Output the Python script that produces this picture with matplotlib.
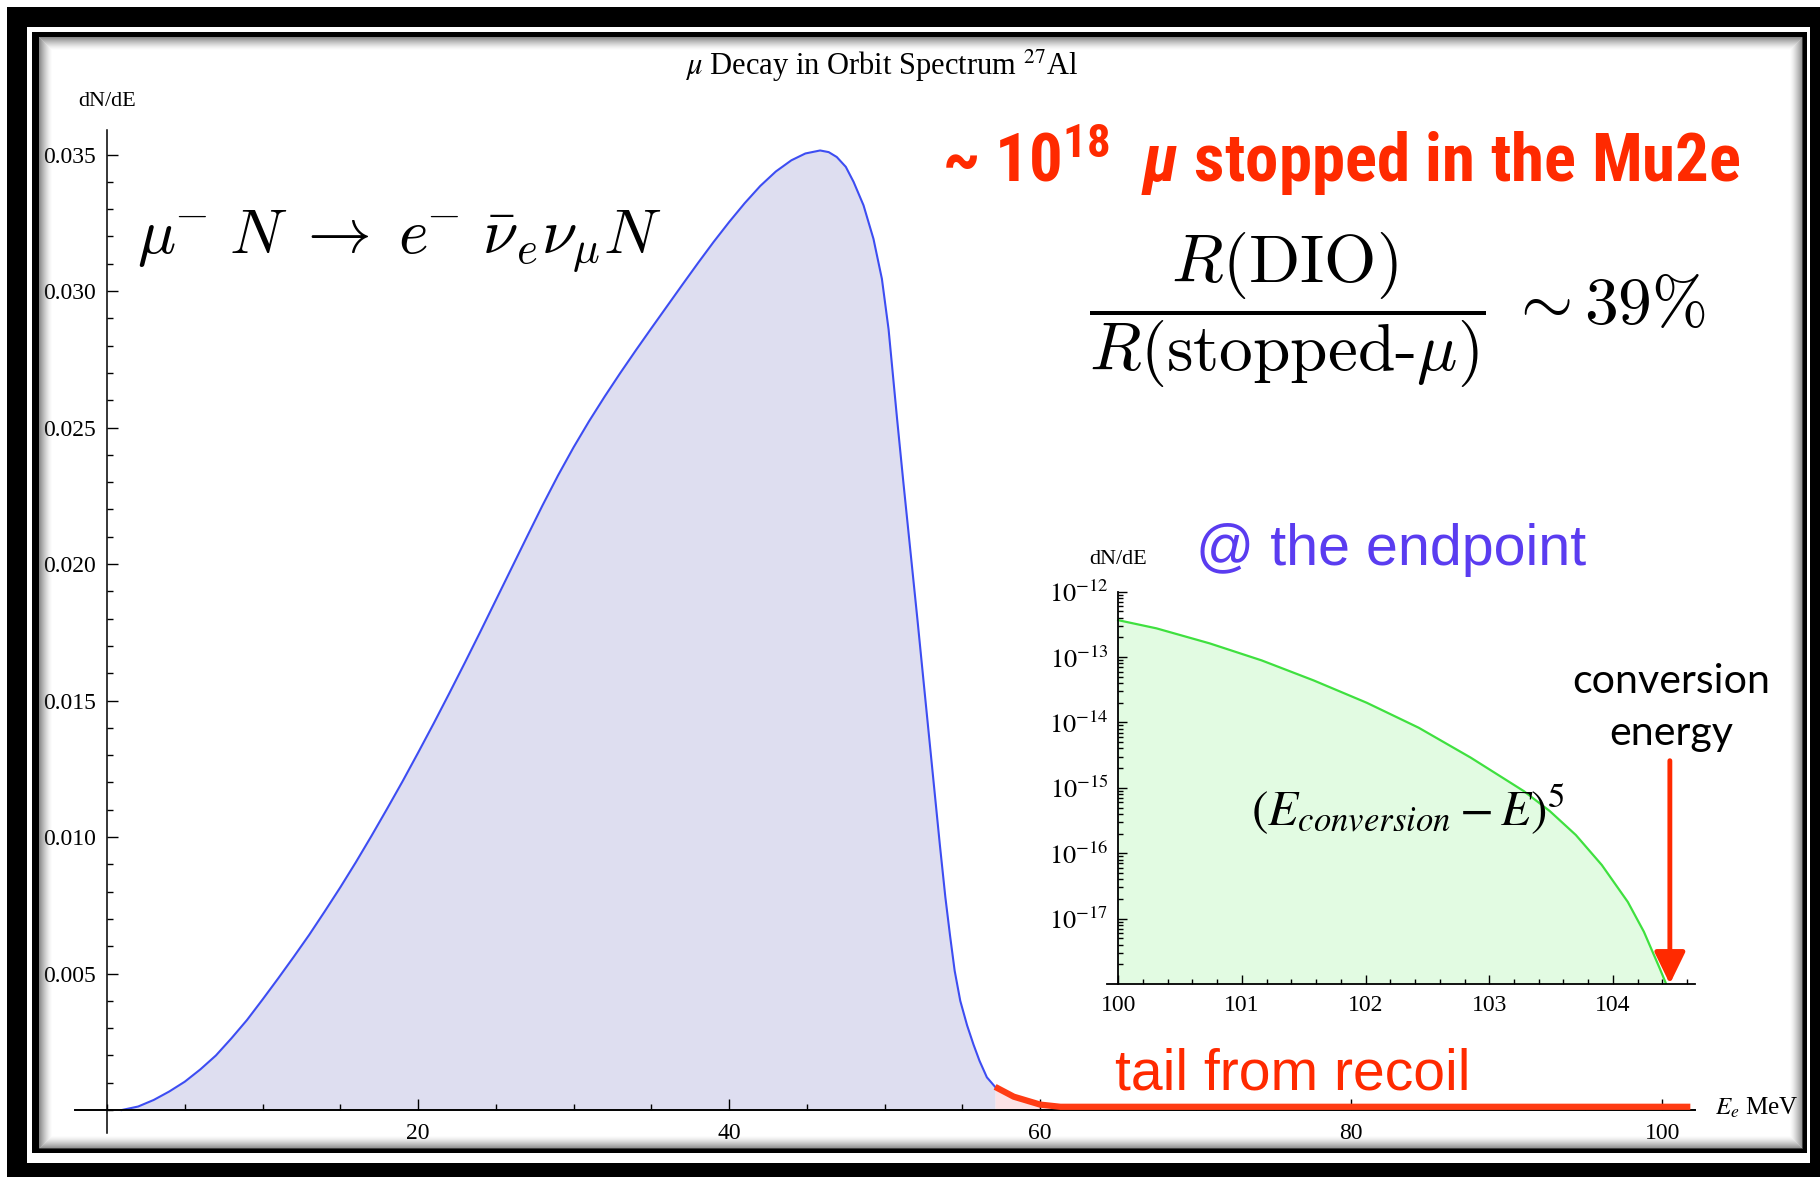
import matplotlib
matplotlib.use("Agg")
import matplotlib.pyplot as plt
from matplotlib import font_manager as fm
from matplotlib.patches import Rectangle
from matplotlib.ticker import MultipleLocator, NullFormatter

# DIO spectrum of the main panel (E in MeV, dN/dE)
dio_energy = [0.94, 2.0, 3.0, 4.0, 5.0, 6.0, 7.0, 8.0, 9.0, 10.0, 11.0, 12.0, 13.0,
              14.0, 15.0, 16.0, 17.0, 18.0, 19.0, 20.0, 21.0, 22.0, 23.0, 24.0,
              25.0, 26.0, 27.0, 28.0, 29.0, 30.0, 31.0, 32.0, 33.0, 34.0, 35.0,
              36.0, 37.0, 38.0, 39.0, 40.0, 41.0, 42.0, 43.0, 44.0, 44.9, 45.85,
              46.4, 46.92, 47.5, 48.0, 48.64, 49.28, 49.82, 50.25, 50.5, 50.8, 51.2,
              51.65, 52.1, 52.5, 52.85, 53.2, 53.55, 53.9, 54.2, 54.5, 54.86, 55.3,
              55.71, 56.1, 56.57, 57.1]
dio_rate = [0.0, 0.00013, 0.00037, 0.00068, 0.00104, 0.00149, 0.002, 0.00263,
            0.0033, 0.00405, 0.00482, 0.00561, 0.00642, 0.00728, 0.00816, 0.00908,
            0.01004, 0.01103, 0.01204, 0.01309, 0.01416, 0.01526, 0.01638, 0.01752,
            0.01868, 0.01984, 0.021, 0.02215, 0.02325, 0.02428, 0.02524, 0.02614,
            0.027, 0.02783, 0.02864, 0.02944, 0.03024, 0.03103, 0.0318, 0.03253,
            0.03322, 0.03385, 0.03438, 0.03479, 0.03504, 0.03515, 0.03509, 0.03491,
            0.03455, 0.034, 0.03314, 0.03191, 0.03045, 0.0286, 0.0271, 0.0253,
            0.0230, 0.0205, 0.0180, 0.0157, 0.0137, 0.0117, 0.0097, 0.0078, 0.0064,
            0.0051, 0.0040, 0.0031, 0.0024, 0.0018, 0.0012, 0.00085]

# recoil tail (red highlight)
tail_energy = [57.1, 58.3, 60.0, 61.3, 101.8]
tail_rate = [0.00085, 0.00049, 0.0002, 0.00012, 0.00012]

# endpoint zoom, log scale
end_energy = [100.0, 100.31, 100.74, 101.16, 101.58, 102.01, 102.43, 102.85,
              103.28, 103.49, 103.70, 103.91, 104.12, 104.25, 104.38, 104.43]
end_rate = [3.67e-13, 2.75e-13, 1.62e-13, 8.9e-14, 4.4e-14, 2.0e-14, 8.3e-15,
            2.9e-15, 8.9e-16, 4.4e-16, 1.9e-16, 6.6e-17, 1.8e-17, 6.3e-18,
            1.7e-18, 1.0e-18]
conversion_energy = 104.46
arrow_top = 2.6e-15

main_xticks = [20, 40, 60, 80, 100]
main_yticks = [0.005, 0.010, 0.015, 0.020, 0.025, 0.030, 0.035]
main_ytick_labels = ["0.005", "0.010", "0.015", "0.020", "0.025", "0.030", "0.035"]
inset_xticks = [100, 101, 102, 103, 104]
inset_yticks = [1e-17, 1e-16, 1e-15, 1e-14, 1e-13, 1e-12]
inset_ytick_labels = [r"$10^{-17}$", r"$10^{-16}$", r"$10^{-15}$",
                      r"$10^{-14}$", r"$10^{-13}$", r"$10^{-12}$"]

RED = "#ff2a00"
W, H = 1820, 1177


# look for a condensed bold sans for the red headline
def pick_condensed():
    prefs = ["Liberation Sans Narrow", "Roboto Condensed", "Noto Sans Condensed",
             "Noto Sans", "Open Sans Condensed", "Open Sans", "DejaVu Sans Condensed",
             "DejaVu Sans", "Inter", "Roboto"]
    cands = [f for f in fm.fontManager.ttflist
             if f.stretch in ("condensed", "semi-condensed")
             and f.weight in (600, 700, 800, "bold", "semibold", "demibold")]
    for p in prefs:
        for f in cands:
            if f.name == p:
                return f.name
    return None


cond = pick_condensed()
if cond is None:
    head_family, head_stretch = "Liberation Sans", "normal"
else:
    head_family, head_stretch = cond, "condensed"

plt.rcParams.update({
    "font.family": ["Liberation Serif", "DejaVu Serif"],
    "mathtext.fontset": "stix",
    "mathtext.rm": f"{head_family}:weight=bold:stretch={head_stretch}",
    "mathtext.bf": f"{head_family}:weight=bold:stretch={head_stretch}",
    "mathtext.it": f"{head_family}:style=italic:weight=bold:stretch={head_stretch}",
})

fig = plt.figure(figsize=(W / 100, H / 100), dpi=100)
fig.patch.set_facecolor("white")


def px_box(left, top, right, bottom):
    # pixel box -> figure fraction rect
    return [left / W, 1 - bottom / H, (right - left) / W, (bottom - top) / H]


# ---- main panel ----
ax = fig.add_axes(px_box(75, 130, 1695, 1133))
ax.set_xlim(-2.06, 102.1)
ax.set_ylim(-0.00084, 0.0359)
ax.patch.set_alpha(0)
for s in ["top", "right"]:
    ax.spines[s].set_visible(False)
ax.spines["left"].set_position(("data", 0))
ax.spines["bottom"].set_position(("data", 0))
ax.spines["left"].set_linewidth(1.1)
ax.spines["bottom"].set_linewidth(1.4)

ax.fill_between(dio_energy, dio_rate, color="#dedef0", lw=0)
ax.plot(dio_energy, dio_rate, color="#3d4df2", lw=1.5)
ax.fill_between(tail_energy[:4], tail_rate[:4], color="#fbe2e6", lw=0)
ax.plot(tail_energy, tail_rate, color="#ff3c14", lw=4.5, solid_capstyle="butt", zorder=4)

ax.set_xticks(main_xticks)
ax.xaxis.set_minor_locator(MultipleLocator(5))
ax.set_yticks(main_yticks, main_ytick_labels)
ax.yaxis.set_minor_locator(MultipleLocator(0.001))
ax.tick_params(which="both", direction="in", width=1.0, labelsize=17)
ax.tick_params(which="major", length=8)
ax.tick_params(which="minor", length=4)
ax.tick_params(axis="x", pad=9)
ax.tick_params(axis="y", pad=8)

# ---- endpoint inset ----
ax_in = fig.add_axes(px_box(1107, 591.7, 1694.6, 984))
ax_in.set_yscale("log")
ax_in.set_xlim(99.91, 104.66)
ax_in.set_ylim(1e-18, 1e-12)
ax_in.patch.set_alpha(0)
for s in ["top", "right"]:
    ax_in.spines[s].set_visible(False)
ax_in.spines["left"].set_position(("data", 100))
ax_in.spines["left"].set_linewidth(1.3)
ax_in.spines["bottom"].set_linewidth(1.3)

ax_in.fill_between(end_energy, end_rate, 1e-18, color="#e2fbe2", lw=0)
ax_in.plot(end_energy, end_rate, color="#3fe03f", lw=1.6)
ax_in.annotate("", xy=(conversion_energy, 1e-18), xytext=(conversion_energy, arrow_top),
               arrowprops=dict(arrowstyle="-|>,head_length=0.97,head_width=0.47",
                               color=RED, lw=3.5, shrinkA=0, shrinkB=0,
                               mutation_scale=20),
               annotation_clip=False, zorder=5)

ax_in.set_xticks(inset_xticks)
ax_in.xaxis.set_minor_locator(MultipleLocator(0.2))
ax_in.set_yticks(inset_yticks, inset_ytick_labels)
ax_in.yaxis.set_minor_formatter(NullFormatter())
ax_in.tick_params(which="both", direction="in", width=1.0)
ax_in.tick_params(axis="x", labelsize=17, pad=8)
ax_in.tick_params(axis="y", labelsize=19, pad=7)
ax_in.tick_params(which="major", length=6.5)
ax_in.tick_params(which="minor", length=3.5)

# ---- overlay in pixel coords: frame and annotations ----
ov = fig.add_axes([0, 0, 1, 1])
ov.set_zorder(10)
ov.set_xlim(0, W)
ov.set_ylim(H, 0)
ov.axis("off")

# outer black band, white gap, inner black line
for x0, y0, x1, y1 in [(7, 7, W, 27), (7, 7, 27, H), (1810, 7, W, H), (7, 1163, W, H),
                       (32, 32, 1807, 37), (32, 32, 39, 1153), (1802, 32, 1807, 1153),
                       (32, 1148, 1807, 1153)]:
    ov.add_patch(Rectangle((x0, y0), x1 - x0, y1 - y0, color="black", lw=0))
# soft bevel shading inside the frame
for i in range(13):
    a = 0.7 * (1 - i / 13) ** 1.5
    ov.add_patch(Rectangle((39 + i, 37 + i), 1763 - 2 * i, 1111 - 2 * i, fill=False,
                           ec=(0.35, 0.35, 0.35, a), lw=0.75))

renderer = fig.canvas.get_renderer()


def fit_width(txt, width_px):
    w = txt.get_window_extent(renderer).width
    txt.set_fontsize(txt.get_fontsize() * width_px / w)


ov.text(882, 75, r"$\mu$ Decay in Orbit Spectrum ${}^{27}$Al", ha="center",
        va="baseline", fontsize=22)
ov.text(107, 101, "dN/dE", ha="center", va="center", fontsize=16)
ov.text(1118, 560, "dN/dE", ha="center", va="center", fontsize=16)
ov.text(1715, 1108, r"$E_e$ MeV", ha="left", va="center", fontsize=18)

t = ov.text(137, 253,
            r"$\mu^{\!\!-}\,N \;\rightarrow\; e^{\!\!-}\,\bar{\nu}_e \nu_\mu N$",
            ha="left", va="baseline", fontsize=46, math_fontfamily="cm")
fit_width(t, 525)

t = ov.text(942, 182, r"~ $\mathbf{10^{18}}$  $\mu$ stopped in the Mu2e",
            ha="left", va="baseline", fontsize=40, family=head_family,
            weight="bold", stretch=head_stretch, color=RED, math_fontfamily="custom")
fit_width(t, 798)

t = ov.text(1089, 310,
            r"$\dfrac{R(\mathrm{DIO})}{R(\mathrm{stopped}\text{-}\mu)}\; \sim 39\%$",
            ha="left", va="center", fontsize=46, math_fontfamily="cm")
fit_width(t, 617)

t = ov.text(1196, 565, "@ the endpoint", ha="left", va="baseline", fontsize=40,
            family="Liberation Sans", color="#5a3cf0")
fit_width(t, 390)

t = ov.text(1671, 693, "conversion", ha="center", va="baseline", fontsize=29,
            family=["Lato", "DejaVu Sans"])
fit_width(t, 198)
ov.text(1671, 745, "energy", ha="center", va="baseline", fontsize=t.get_fontsize(),
        family=["Lato", "DejaVu Sans"])

t = ov.text(1251, 825, r"$(E_{conversion} - E)^5$", ha="left", va="baseline",
            fontsize=35, math_fontfamily="stix")
fit_width(t, 314)

t = ov.text(1115, 1090, "tail from recoil", ha="left", va="baseline", fontsize=40,
            family="Liberation Sans", color=RED)
fit_width(t, 356)

fig.savefig("out.png", dpi=100)
